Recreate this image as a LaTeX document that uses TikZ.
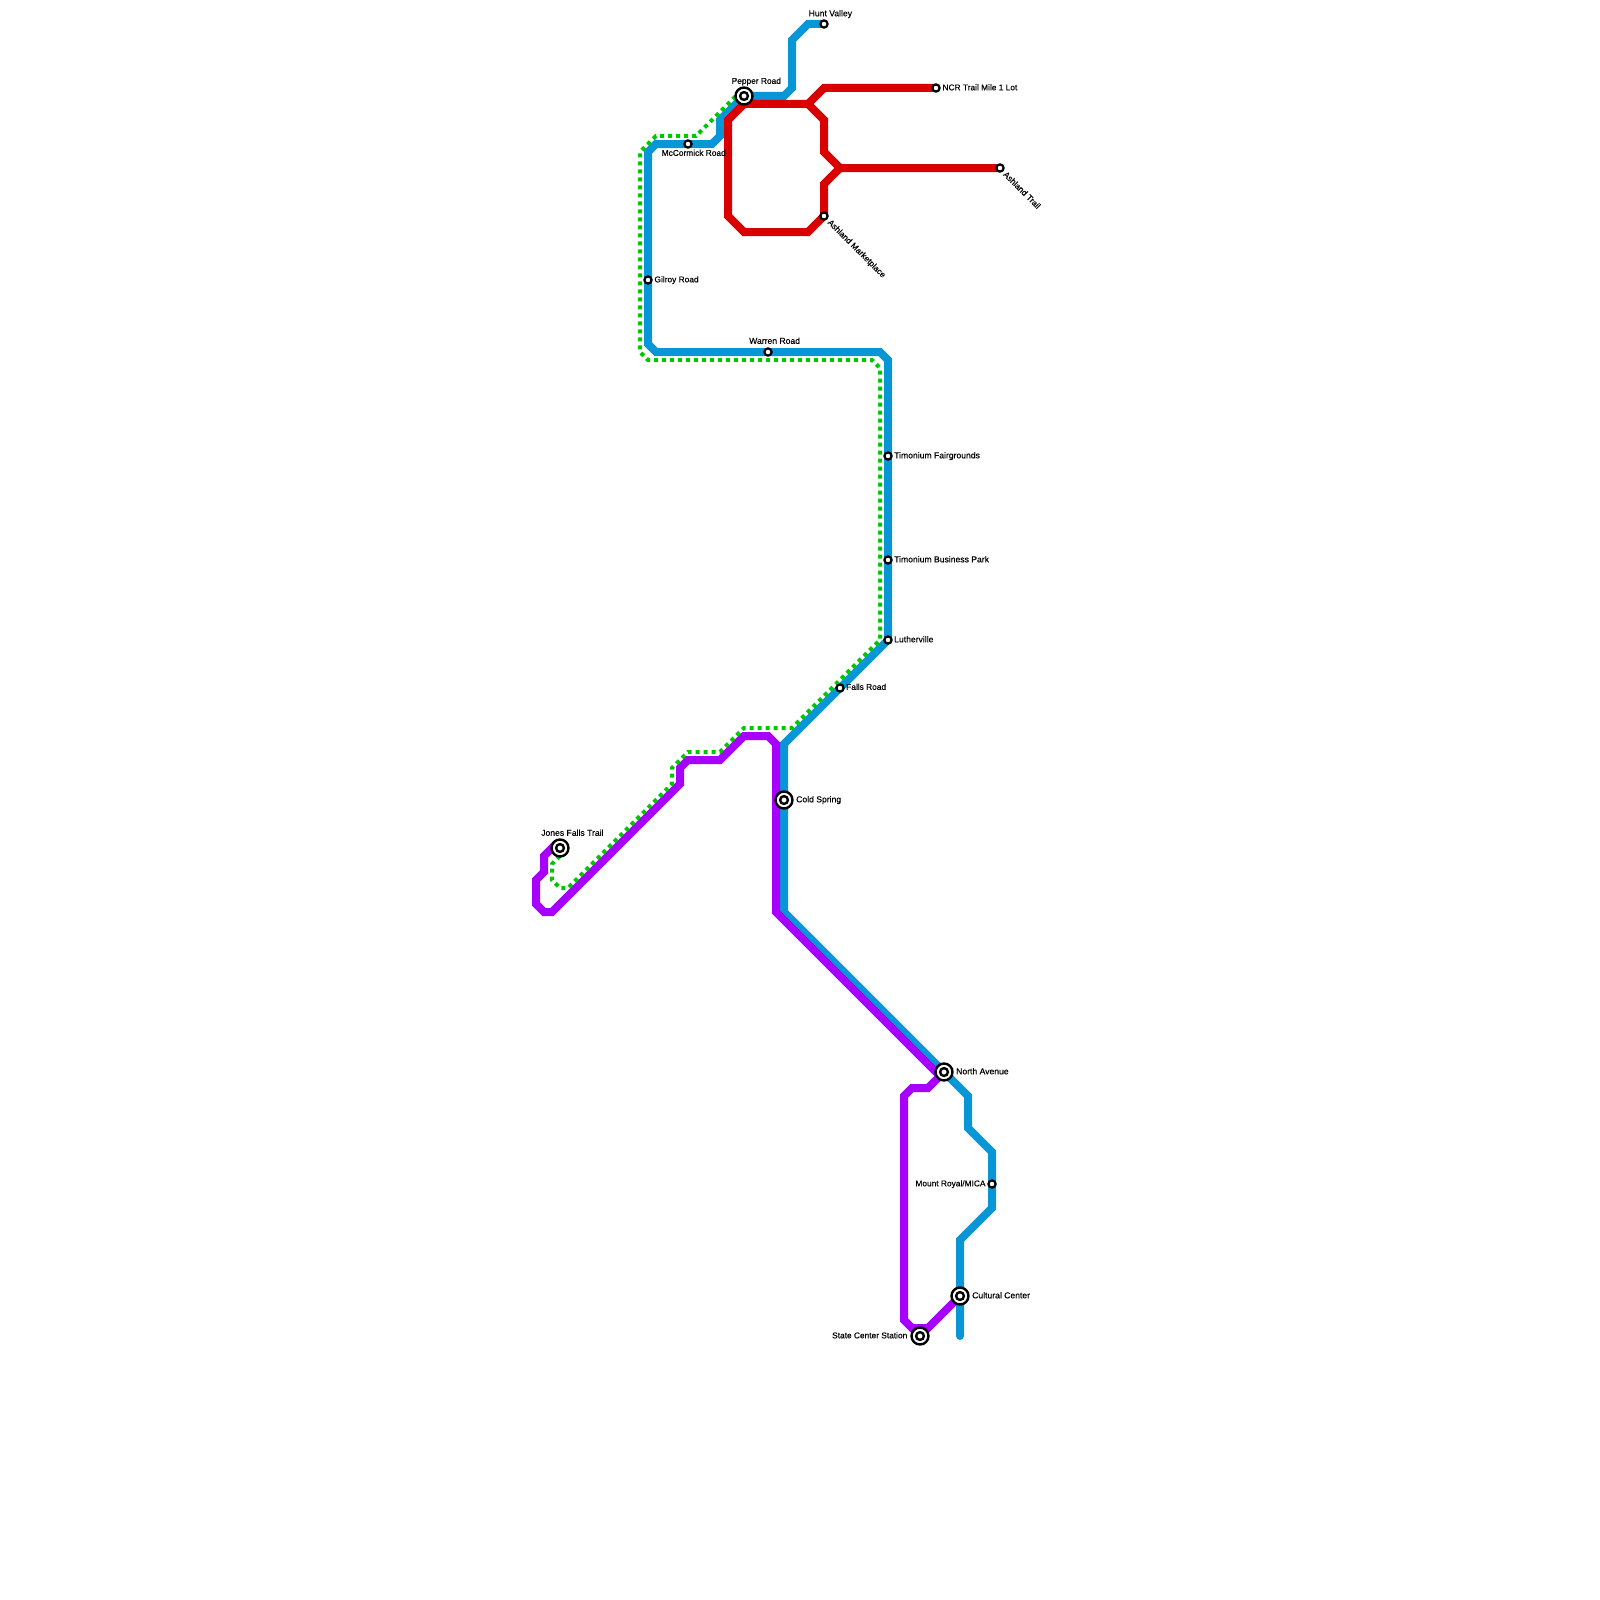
\documentclass[tikz,border=0pt]{standalone}
\usepackage{fontspec}
\setmainfont{Liberation Sans}
\newfontface\labface{Liberation Sans}[FakeBold=0.3]
\definecolor{cblue}{HTML}{0896D7}
\definecolor{cred}{HTML}{D90000}
\definecolor{cpurple}{HTML}{A800FF}
\definecolor{cgreen}{HTML}{00C800}
\tikzset{
  route/.style={line width=8pt,line join=miter,line cap=round},
  dotted route/.style={line width=4pt,color=cgreen,dash pattern=on 4pt off 4pt,line join=miter},
  stop/.style={circle,draw=black,fill=white,line width=2.2pt,minimum size=7.2pt,inner sep=0pt},
  hub/.style={circle,draw=black,fill=white,line width=2.4pt,minimum size=17pt,inner sep=0pt,
    path picture={\draw[black,line width=2.4pt] (path picture bounding box.center) circle (3.9pt);}},
  lab/.style={inner sep=0pt,anchor=west,font=\labface\fontsize{8.6pt}{9pt}\selectfont,text height=6.2pt,text depth=1.6pt},
  labt/.style={lab,font=\labface\fontsize{8.35pt}{9pt}\selectfont},
  labr/.style={labt,anchor=east}
}
\begin{document}
\begin{tikzpicture}[x=1pt,y=-1pt]
\useasboundingbox (0,0) rectangle (1600,1600);
% station positions
\coordinate (hv) at (824,24);
\coordinate (pr) at (744,96);
\coordinate (ncr) at (936,88);
\coordinate (at) at (1000,168);
\coordinate (am) at (824,216);
\coordinate (mc) at (688,144);
\coordinate (gr) at (648,280);
\coordinate (wr) at (768,352);
\coordinate (tf) at (888,456);
\coordinate (tb) at (888,560);
\coordinate (lv) at (888,640);
\coordinate (fr) at (840,688);
\coordinate (cs) at (784,800);
\coordinate (jf) at (560,848);
\coordinate (na) at (944,1072);
\coordinate (mr) at (992,1184);
\coordinate (cc) at (960,1296);
\coordinate (sc) at (920,1336);
\coordinate (bend) at (960,1336);
% blue
\draw[route,cblue] (hv) -- (808,24) -- (792,40) -- (792,88) -- (784,96) -- (pr) -- (720,120) -- (720,136) -- (712,144) -- (mc) -- (656,144) -- (648,152) -- (gr) -- (648,344) -- (656,352) -- (wr) -- (880,352) -- (888,360) -- (tf) -- (tb) -- (lv) -- (fr) -- (784,744) -- (cs) -- (784,912) -- (na) -- (968,1096) -- (968,1128) -- (992,1152) -- (mr) -- (992,1208) -- (960,1240) -- (cc) -- (bend);
% purple
\draw[route,cpurple] (556,844) -- (544,856) -- (544,872) -- (536,880) -- (536,904) -- (544,912) -- (552,912) -- (680,784) -- (680,768) -- (688,760) -- (720,760) -- (744,736) -- (768,736) -- (776,744) -- (776,912) -- (936,1072) -- (na) -- (928,1088) -- (912,1088) -- (904,1096) -- (904,1320) -- (912,1328) -- (928,1328) -- (cc);
% green
\draw[dotted route] (jf) -- (560,856) -- (552,864) -- (552,880) -- (560,888) -- (568,888) -- (672,784) -- (672,768) -- (688,752) -- (720,752) -- (744,728) -- (792,728) -- (880,640) -- (880,368) -- (872,360) -- (648,360) -- (640,352) -- (640,152) -- (656,136) -- (696,136) -- (736,96) -- (pr);
% red
\draw[route,cred] (ncr) -- (824,88) -- (808,104) -- (744,104) -- (728,120) -- (728,216) -- (744,232) -- (808,232) -- (am) -- (824,184) -- (840,168) -- (at);
\draw[route,cred] (808,104) -- (824,120) -- (824,152) -- (840,168);
% stations
\node[stop] (hvn) at (hv) {};
\node[hub] (prn) at (pr) {};
\node[stop] (ncrn) at (ncr) {};
\node[stop] (atn) at (at) {};
\node[stop] (amn) at (am) {};
\node[stop] (mcn) at (mc) {};
\node[stop] (grn) at (gr) {};
\node[stop] (wrn) at (wr) {};
\node[stop] (tfn) at (tf) {};
\node[stop] (tbn) at (tb) {};
\node[stop] (lvn) at (lv) {};
\node[stop] (frn) at (fr) {};
\node[hub] (csn) at (cs) {};
\node[hub] (jfn) at (jf) {};
\node[hub] (nan) at (na) {};
\node[stop] (mrn) at (mr) {};
\node[hub] (ccn) at (cc) {};
\node[hub] (scn) at (sc) {};
% labels
\node[lab] (l1) at (808.5,14) {Hunt Valley};
\node[labt] (l2) at (731.5,81.5) {Pepper Road};
\node[labt] (l3) at (942.3,88) {NCR Trail Mile 1 Lot};
\node[labt,rotate=-45] (l4) at (1004.3,173.3) {Ashland Trail};
\node[labt,rotate=-45] (l5) at (828.8,221.3) {Ashland Marketplace};
\node[labt] (l6) at (661.5,153.5) {McCormick Road};
\node[labt] (l7) at (654.3,280) {Gilroy Road};
\node[lab] (l8) at (749,341.5) {Warren Road};
\node[lab] (l9) at (894,456) {Timonium Fairgrounds};
\node[lab] (l10) at (894,560) {Timonium Business Park};
\node[lab] (l11) at (894,640) {Lutherville};
\node[labt] (l12) at (846,687.5) {Falls Road};
\node[lab] (l13) at (796,800) {Cold Spring};
\node[lab] (l14) at (541,833.5) {Jones Falls Trail};
\node[lab] (l15) at (956,1072) {North Avenue};
\node[labr] (l16) at (985.7,1184) {Mount Royal/MICA};
\node[lab] (l17) at (972,1296) {Cultural Center};
\node[labr] (l18) at (907.5,1336) {State Center Station};
\end{tikzpicture}
\end{document}
